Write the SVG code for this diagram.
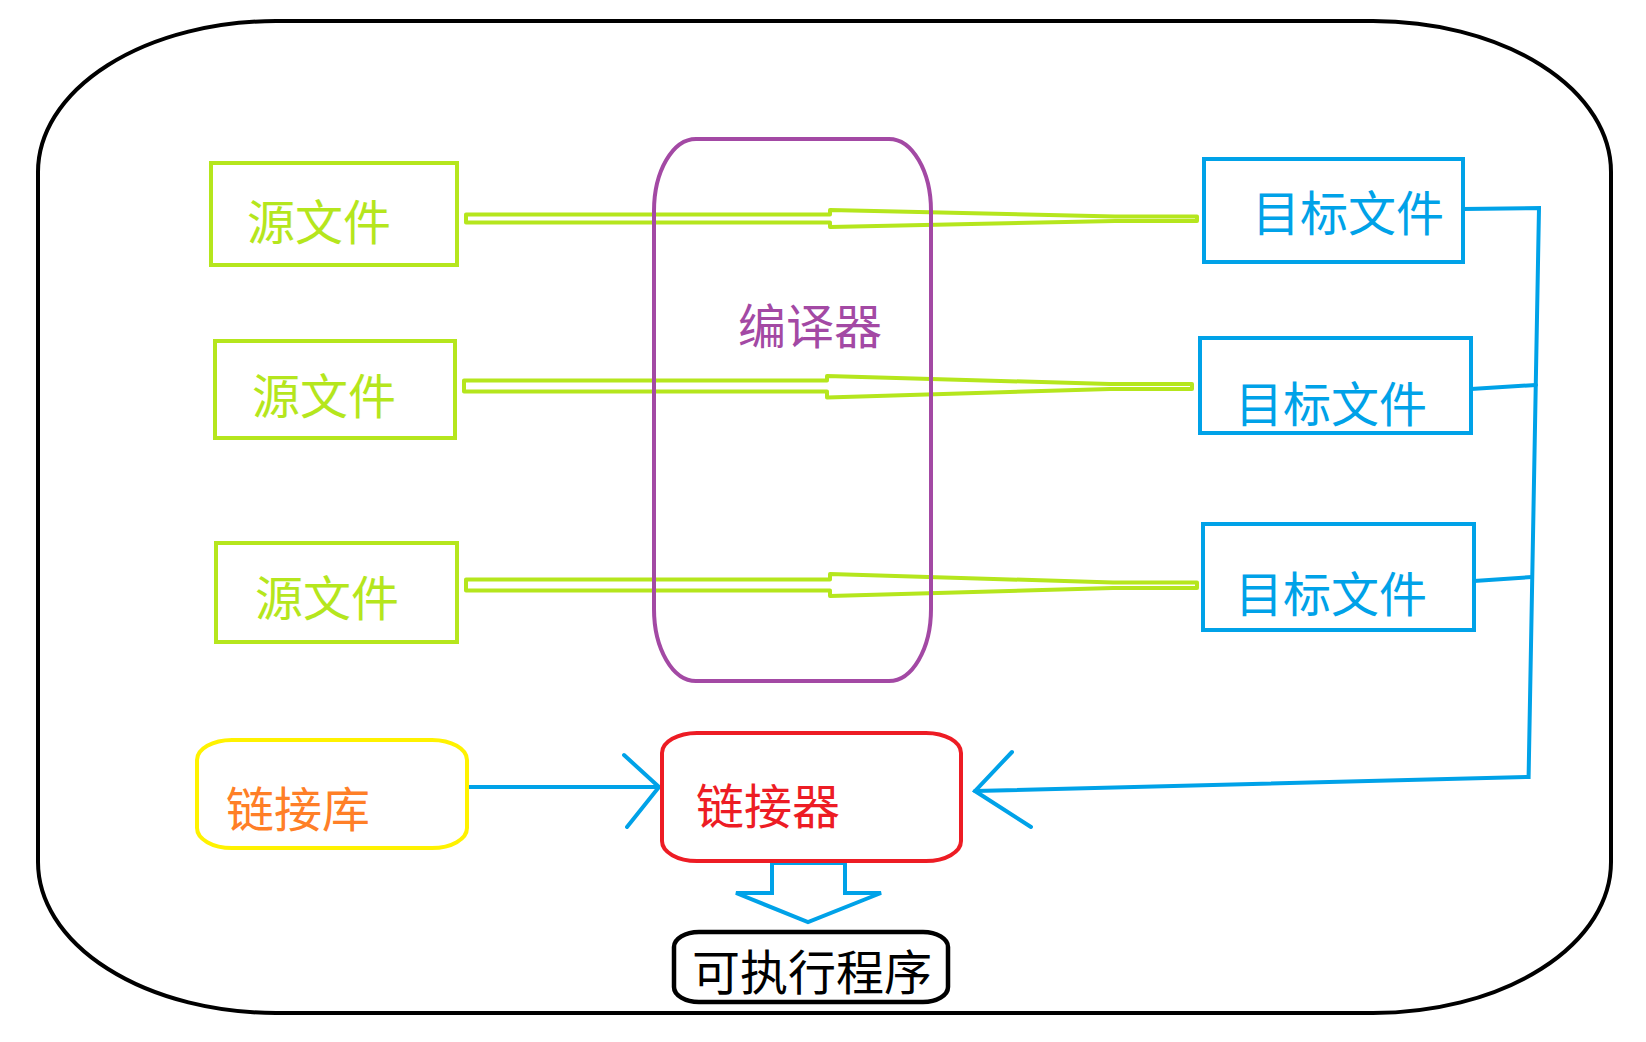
<svg xmlns="http://www.w3.org/2000/svg" width="1646" height="1042" viewBox="0 0 1646 1042">
<style>
.t{font-family:"Liberation Sans","Noto Sans CJK SC",sans-serif;font-size:48px}
.src rect{fill:none;stroke:#B5E61D;stroke-width:4}
.src text{fill:#B5E61D}
.obj rect{fill:none;stroke:#00A2E8;stroke-width:4}
.obj text{fill:#00A2E8}
.ga{fill:none;stroke:#B5E61D;stroke-width:4;stroke-linejoin:round}
.bl{fill:none;stroke:#00A2E8;stroke-width:4;stroke-linejoin:miter;stroke-linecap:round}
</style>
<rect width="1646" height="1042" fill="#fff"/>
<g id="frame">
<rect x="38" y="21" width="1573" height="992" rx="238" ry="151" fill="none" stroke="#000" stroke-width="4"/>
</g>
<g id="connectors">
<path class="ga" d="M466,214.5 H830 V210 L1115,216.5 H1197 V221 H1115 L830,227 V222.5 H466 Z"/>
<path class="ga" d="M464,380.5 H827 V376 L1110,384 H1192 V389 H1110 L827,397.5 V391.5 H464 Z"/>
<path class="ga" d="M466,579.5 H830 V574 L1113,582.5 H1197 V588 H1113 L830,596 V590.5 H466 Z"/>
<path class="bl" d="M1463,209 L1539,208 L1528.6,777 L975,791"/>
<path class="bl" d="M1471,389 L1536,385"/>
<path class="bl" d="M1474,581 L1532,577"/>
<path class="bl" d="M1012,752 L975,791 L1031,827"/>
<path class="bl" d="M467,787 L659,787"/>
<path class="bl" d="M624,755 L659,787 L627,827"/>
<path class="bl" d="M772,863 H845 V893 H881 L808,922 L736,893 H772 Z"/>
</g>
<g id="src1" class="src"><rect x="211" y="163" width="246" height="102"/><text class="t" x="247" y="240">源文件</text></g>
<g id="src2" class="src"><rect x="215" y="341" width="240" height="97"/><text class="t" x="252" y="414">源文件</text></g>
<g id="src3" class="src"><rect x="216" y="543" width="241" height="99"/><text class="t" x="255" y="616">源文件</text></g>
<g id="compiler">
<rect x="654" y="139" width="277" height="542" rx="42" ry="72" fill="none" stroke="#A349A4" stroke-width="4"/>
<text class="t" x="738" y="344" fill="#A349A4">编译器</text>
</g>
<g id="obj1" class="obj"><rect x="1204" y="159" width="259" height="103"/><text class="t" x="1252" y="231">目标文件</text></g>
<g id="obj2" class="obj"><rect x="1200" y="338" width="271" height="95"/><text class="t" x="1235" y="422">目标文件</text></g>
<g id="obj3" class="obj"><rect x="1203" y="524" width="271" height="106"/><text class="t" x="1235" y="612">目标文件</text></g>
<g id="lib">
<rect x="197" y="740" width="270" height="108" rx="35" ry="20" fill="none" stroke="#FFF200" stroke-width="4"/>
<text class="t" x="226" y="827" fill="#FF7F27">链接库</text>
</g>
<g id="linker">
<rect x="662" y="733" width="299" height="128" rx="35" ry="20" fill="none" stroke="#ED1C24" stroke-width="4"/>
<text class="t" x="696" y="824" fill="#ED1C24">链接器</text>
</g>
<g id="exe">
<rect x="674" y="932" width="274" height="70" rx="25" ry="15" fill="none" stroke="#000" stroke-width="4.5"/>
<text class="t" x="692" y="990" fill="#000">可执行程序</text>
</g>
</svg>
